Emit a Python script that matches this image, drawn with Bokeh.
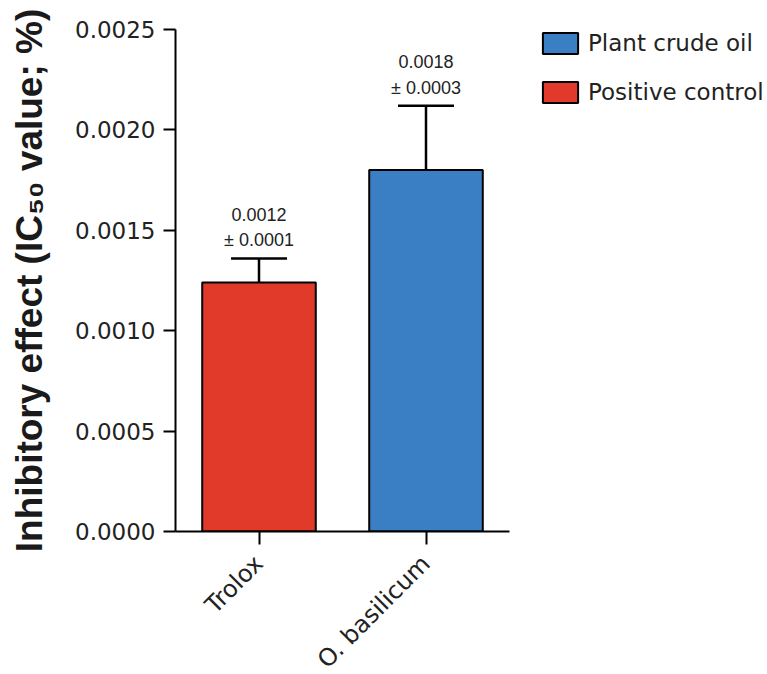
import math
from bokeh.plotting import figure
from bokeh.models import (ColumnDataSource, FactorRange, Range1d, Whisker, Legend, LegendItem,
                          SingleIntervalTicker, NumeralTickFormatter)
from bokeh.core.properties import value
from bokeh.embed import file_html
from bokeh.resources import INLINE

# ---- data ----
samples = ["Trolox", "O. basilicum"]
means = [0.00124, 0.00180]
errors = [0.00012, 0.00032]
mean_labels = ["0.0012", "0.0018"]
err_labels = ["\u00b1 0.0001", "\u00b1 0.0003"]
groups = ["Positive control", "Plant crude oil"]
colors = ["#E1392A", "#3A7EC4"]

src = ColumnDataSource(dict(
    x=samples, top=means, err=errors,
    upper=[m + e for m, e in zip(means, errors)],
    mlab=mean_labels, elab=err_labels, color=colors,
))

p = figure(frame_width=334, frame_height=502, x_range=FactorRange(*samples, range_padding=0),
           y_range=Range1d(0, 0.0025), output_backend="svg", toolbar_location=None,
           min_border_left=175, min_border_right=258, min_border_top=29, min_border_bottom=143)
p.outline_line_color = None
p.xgrid.visible = False
p.ygrid.visible = False
p.background_fill_color = "white"
p.border_fill_color = "white"

bars = p.vbar(x="x", top="top", width=0.68, source=src, fill_color="color",
              line_color="black", line_width=2)

wh = Whisker(base="x", lower="top", upper="upper", source=src, line_color="black", line_width=2.5)
wh.lower_head = None
wh.upper_head.size = 56
wh.upper_head.line_width = 2.5
wh.upper_head.line_color = "black"
p.add_layout(wh)

p.text(x="x", y="upper", text="elab", source=src, y_offset=-18, text_align="center",
       text_baseline="middle", text_font=value("Liberation Sans"), text_font_size="18px",
       text_color="#222222")
p.text(x="x", y="upper", text="mlab", source=src, y_offset=-44, text_align="center",
       text_baseline="middle", text_font=value("Liberation Sans"), text_font_size="18px",
       text_color="#222222")

# axes
ya = p.yaxis[0]
ya.ticker = SingleIntervalTicker(interval=0.0005)
ya.formatter = NumeralTickFormatter(format="0.0000")
ya.minor_tick_line_color = None
ya.major_tick_in = 0
ya.major_tick_out = 12
ya.major_tick_line_width = 2
ya.axis_line_width = 2
ya.major_label_standoff = 8
ya.major_label_text_font = "DejaVu Sans"
ya.major_label_text_font_size = "23px"
ya.major_label_text_color = "#222222"
ya.axis_label = "Inhibitory effect (IC\u2085\u2080 value; %)"
ya.axis_label_text_font = "Liberation Sans"
ya.axis_label_text_font_style = "bold"
ya.axis_label_text_font_size = "37px"
ya.axis_label_text_color = "#1a1a1a"
ya.axis_label_standoff = 22

xa = p.xaxis[0]
xa.major_tick_in = 0
xa.major_tick_out = 13
xa.major_tick_line_width = 2
xa.axis_line_width = 2
xa.minor_tick_line_color = None
xa.major_label_orientation = math.pi / 4
xa.major_label_standoff = 15
xa.major_label_text_font = "DejaVu Sans"
xa.major_label_text_font_size = "24px"
xa.major_label_text_color = "#222222"

legend = Legend(items=[
    LegendItem(label=groups[1], renderers=[bars], index=1),
    LegendItem(label=groups[0], renderers=[bars], index=0),
], location=(29, 426), margin=0, padding=0, spacing=23, glyph_width=44, glyph_height=26,
    label_standoff=6, label_text_font="DejaVu Sans", label_text_font_size="23px",
    label_text_color="#222222", border_line_color=None, background_fill_alpha=0,
    label_height=26)
p.add_layout(legend, "right")

open("out.html", "w").write(file_html(p, INLINE))
